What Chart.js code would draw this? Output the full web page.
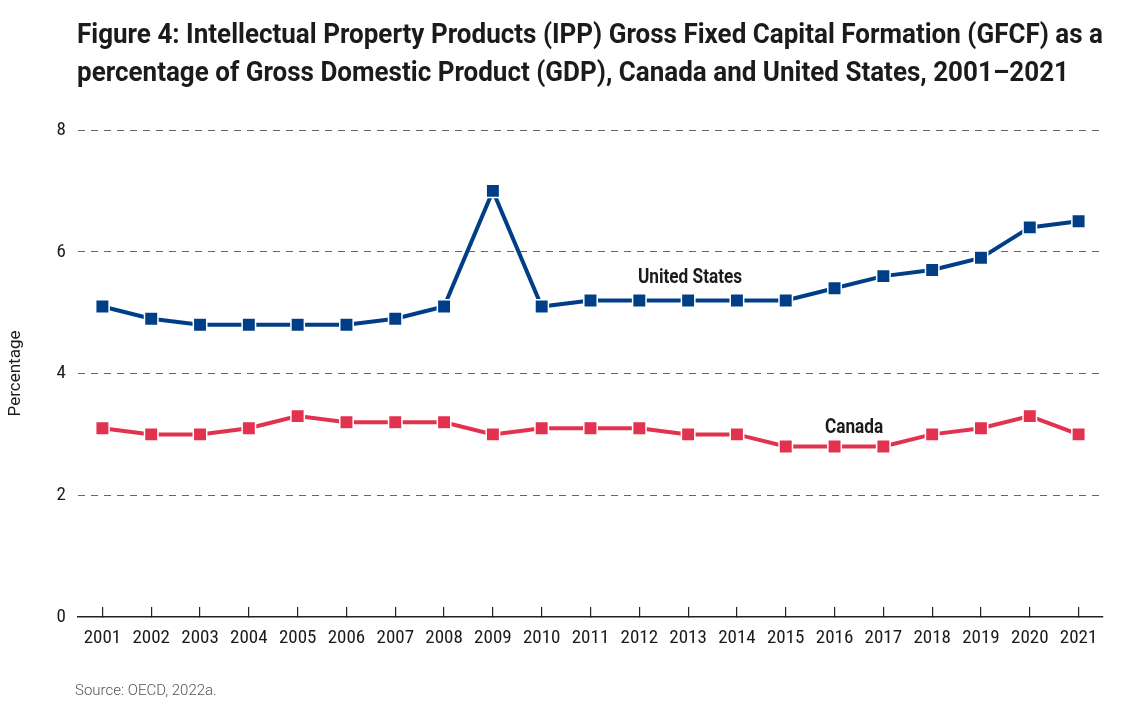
<!DOCTYPE html>
<html>
<head>
<meta charset="utf-8">
<script src="https://cdn.jsdelivr.net/npm/chart.js@4.4.1/dist/chart.umd.min.js"></script>
<style>
  body { margin: 0; background: #fff; }
  .wrap { position: relative; width: 1132px; height: 710px; overflow: hidden; }
  canvas { position: absolute; left: 0; top: 0; }
  .title { position: absolute; left: 77px; top: 15px; font: 700 28px Roboto, sans-serif; line-height: 38px; color: #1b1b1b; white-space: nowrap; transform-origin: 0 0; }
  .title span { display: inline-block; }
  .source { position: absolute; left: 75px; top: 681px; font: 300 15px Roboto, sans-serif; line-height: 18px; color: #555; }
</style>
</head>
<body>
<div class="wrap">
  <canvas id="ippChart"></canvas>
  <div class="title" id="title"><span id="titleLine1">Figure 4: Intellectual Property Products (IPP) Gross Fixed Capital Formation (GFCF) as a</span><br><span>percentage of Gross Domestic Product (GDP), Canada and United States, 2001–2021</span></div>
  <div class="source">Source: OECD, 2022a.</div>
</div>
<script>
const years = ['2001', '2002', '2003', '2004', '2005', '2006', '2007', '2008', '2009', '2010', '2011',
  '2012', '2013', '2014', '2015', '2016', '2017', '2018', '2019', '2020', '2021']
const usValues = [5.1, 4.9, 4.8, 4.8, 4.8, 4.8, 4.9, 5.1, 7.0, 5.1, 5.2, 5.2, 5.2, 5.2, 5.2, 5.4, 5.6, 5.7, 5.9, 6.4, 6.5]
const canadaValues = [3.1, 3.0, 3.0, 3.1, 3.3, 3.2, 3.2, 3.2, 3.0, 3.1, 3.1, 3.1, 3.0, 3.0, 2.8, 2.8, 2.8, 3.0, 3.1, 3.3, 3.0]
const yTicks = [0, 2, 4, 6, 8]

const US_BLUE = '#003f87'
const CA_RED = '#e3324f'
const narrow = "'Liberation Sans Narrow', 'Roboto Condensed', Roboto, sans-serif"

// squeeze the title so it reads like the condensed face of the original
const line1 = document.querySelector('#titleLine1')
const squeeze = 1026 / line1.getBoundingClientRect().width
document.querySelector('#title').style.transform = `scaleX(${squeeze})`

// series names written next to their lines
const seriesNames = {
  id: 'seriesNames',
  afterDatasetsDraw(chart, args, opts) {
    const { ctx, scales: { x, y } } = chart
    opts.items.forEach(item => {
      ctx.save()
      ctx.translate(x.getPixelForValue(item.at[0]), y.getPixelForValue(item.at[1]))
      ctx.scale(0.82, 1)
      ctx.font = '700 21px Roboto, sans-serif'
      ctx.fillStyle = '#1b1b1b'
      ctx.textAlign = 'center'
      ctx.textBaseline = 'middle'
      ctx.fillText(item.text, 0, 0)
      ctx.restore()
    })
  }
}

const lineStyle = color => ({
  borderColor: color,
  backgroundColor: color,
  borderWidth: 4,
  pointStyle: 'rect',
  pointRadius: 9.5,
  pointHoverRadius: 9.5,
  pointBackgroundColor: color,
  pointBorderColor: '#fff',
  pointBorderWidth: 1.5,
  tension: 0
})

new Chart(document.querySelector('#ippChart'), {
  type: 'line',
  data: {
    labels: years,
    datasets: [
      { label: 'Canada', data: canadaValues, ...lineStyle(CA_RED) },
      { label: 'United States', data: usValues, ...lineStyle(US_BLUE) }
    ]
  },
  options: {
    responsive: true,
    maintainAspectRatio: false,
    animation: false,
    layout: { padding: { left: 0, right: 29, top: 130, bottom: 0 } },
    scales: {
      x: {
        offset: true,
        afterFit: s => { s.height = 93 },
        border: { display: true, color: '#222', width: 1.5 },
        grid: { drawOnChartArea: false, drawTicks: true, tickLength: -10, color: '#222', lineWidth: 1.2 },
        ticks: { padding: 20, color: '#1b1b1b', font: { family: narrow, size: 19 }, maxRotation: 0, autoSkip: false }
      },
      y: {
        min: 0,
        max: 8,
        afterFit: s => { s.width = 78 },
        afterBuildTicks: s => { s.ticks = yTicks.map(v => ({ value: v })) },
        border: { display: false, dash: [7, 6] },
        grid: {
          drawTicks: false,
          color: c => c.tick && c.tick.value === 0 ? 'transparent' : '#666',
          lineWidth: 1
        },
        ticks: { padding: 12, color: '#1b1b1b', font: { family: narrow, size: 19 } },
        title: {
          display: true,
          text: 'Percentage',
          color: '#1b1b1b',
          font: { family: 'Roboto, sans-serif', size: 17 },
          padding: { top: 6, bottom: 0 }
        }
      }
    },
    plugins: {
      legend: { display: false },
      tooltip: { enabled: false },
      seriesNames: {
        items: [
          { text: 'United States', at: [12.04, 5.57] },
          { text: 'Canada', at: [15.4, 3.11] }
        ]
      }
    }
  },
  plugins: [seriesNames]
})
</script>
</body>
</html>
